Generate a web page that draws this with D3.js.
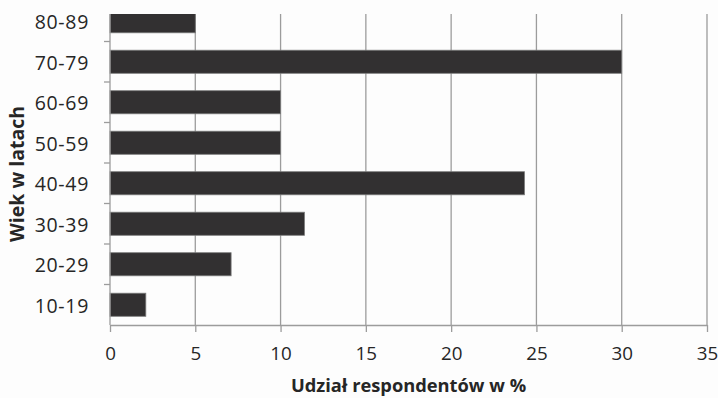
<!DOCTYPE html>
<html>
<head>
<meta charset="utf-8">
<script src="https://cdn.jsdelivr.net/npm/d3@7"></script>
<style>
  html, body { margin: 0; padding: 0; background: #fdfdfd; }
  svg { display: block; }
  text { font-family: "Open Sans", sans-serif; fill: #262626; }
</style>
</head>
<body>
<svg id="chart" width="718" height="398"></svg>
<script>
// Age groups, bottom to top
const ageGroups = ["10-19", "20-29", "30-39", "40-49", "50-59", "60-69", "70-79", "80-89"];
// Share of respondents in each age group (%)
const shares = [2.1, 7.1, 11.4, 24.3, 10, 10, 30, 5];
// Horizontal axis ticks
const xTicks = [0, 5, 10, 15, 20, 25, 30, 35];

const xLabel = "Udział respondentów w %";
const yLabel = "Wiek w latach";

const width = 718, height = 398;
const margin = { left: 110, right: 11, top: 1, bottom: 73 };
const plotBottom = height - margin.bottom;   // 325
const plotRight = width - margin.right;      // 707
const visibleTop = 14;

const svg = d3.select("#chart");

const x = d3.scaleLinear().domain([0, 35]).range([margin.left, plotRight]);
const y = d3.scaleBand()
  .domain(ageGroups)
  .range([plotBottom, margin.top])
  .paddingInner(0.43)
  .paddingOuter(0.215);

// Plot area is cut off at the top
svg.append("defs").append("clipPath").attr("id", "plotClip")
  .append("rect")
  .attr("x", 0).attr("y", visibleTop)
  .attr("width", width).attr("height", plotBottom - visibleTop + 20);

const plot = svg.append("g").attr("clip-path", "url(#plotClip)");

const gridColor = "#9c9c9c";

// Vertical gridlines
plot.append("g")
  .selectAll("line")
  .data(xTicks.slice(1))
  .join("line")
  .attr("x1", d => x(d)).attr("x2", d => x(d))
  .attr("y1", margin.top).attr("y2", plotBottom)
  .attr("stroke", gridColor)
  .attr("stroke-width", 1.3);

// Bars
plot.append("g")
  .selectAll("rect")
  .data(ageGroups.map((g, i) => ({ group: g, value: shares[i] })))
  .join("rect")
  .attr("x", x(0))
  .attr("y", d => y(d.group))
  .attr("width", d => x(d.value) - x(0))
  .attr("height", y.bandwidth())
  .attr("fill", "#323031")
  .attr("stroke", "#7a7a7a")
  .attr("stroke-width", 0.8);

// Vertical axis line and category boundary ticks
const step = y.step();
const boundaries = ageGroups.map(g => y(g) - y.paddingOuter() * step + step);
plot.append("line")
  .attr("x1", x(0)).attr("x2", x(0))
  .attr("y1", margin.top).attr("y2", plotBottom)
  .attr("stroke", gridColor).attr("stroke-width", 1.3);
plot.append("g")
  .selectAll("line")
  .data(boundaries.slice(1))
  .join("line")
  .attr("x1", x(0) - 6).attr("x2", x(0))
  .attr("y1", d => d).attr("y2", d => d)
  .attr("stroke", gridColor).attr("stroke-width", 1.3);

// Category labels
const yAxis = svg.append("g")
  .attr("transform", `translate(${x(0)},0)`)
  .call(d3.axisLeft(y).tickSize(0).tickPadding(21));
yAxis.select(".domain").remove();
yAxis.selectAll("text")
  .attr("dy", "0.42em")
  .style("font-size", "19.5px")
  .style("letter-spacing", "0.7px")
  .style("font-family", "'Open Sans', sans-serif")
  .attr("fill", "#262626");

// Horizontal axis
const xAxis = svg.append("g")
  .attr("transform", `translate(0,${plotBottom})`)
  .call(d3.axisBottom(x).tickValues(xTicks).tickSize(7).tickPadding(15).tickSizeOuter(0));
xAxis.select(".domain").attr("stroke", gridColor).attr("stroke-width", 1.3);
xAxis.selectAll(".tick line").attr("stroke", gridColor).attr("stroke-width", 1.3);
xAxis.selectAll("text")
  .style("font-size", "18.8px")
  .style("font-family", "'Open Sans', sans-serif")
  .attr("fill", "#262626");

// Axis titles
svg.append("text")
  .attr("x", (x(0) + plotRight) / 2)
  .attr("y", 392)
  .attr("text-anchor", "middle")
  .style("font-size", "18.3px")
  .style("font-weight", "bold")
  .text(xLabel);

svg.append("text")
  .attr("transform", `translate(24,174) rotate(-90)`)
  .attr("text-anchor", "middle")
  .style("font-size", "19.5px")
  .style("font-weight", "bold")
  .text(yLabel);
</script>
</body>
</html>
